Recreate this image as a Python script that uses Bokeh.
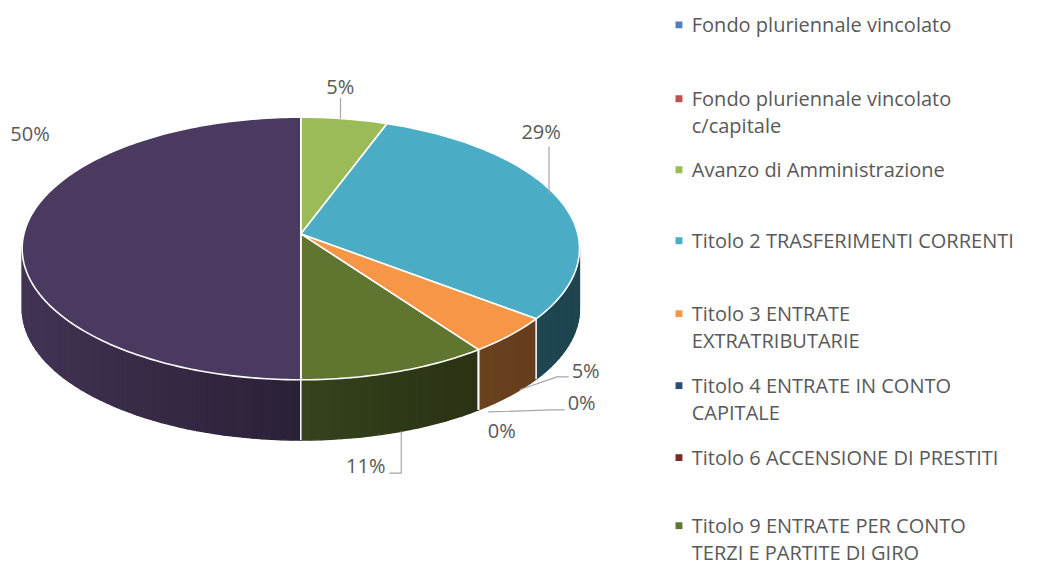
import numpy as np
from bokeh.plotting import figure
from bokeh.models import Range1d
from bokeh.embed import file_html
from bokeh.resources import INLINE
from bokeh.core.properties import value

# ---------------- data ----------------
categories = [
    "Fondo pluriennale vincolato",
    "Fondo pluriennale vincolato c/capitale",
    "Avanzo di Amministrazione",
    "Titolo 2 TRASFERIMENTI CORRENTI",
    "Titolo 3 ENTRATE EXTRATRIBUTARIE",
    "Titolo 4 ENTRATE IN CONTO CAPITALE",
    "Titolo 6 ACCENSIONE DI PRESTITI",
    "Titolo 9 ENTRATE PER CONTO TERZI E PARTITE DI GIRO",
    "Titolo 1 ENTRATE CORRENTI",
]
values = [0, 0, 5, 29, 5, 0, 0, 11, 50]
pct_labels = ["0%", "0%", "5%", "29%", "5%", "0%", "0%", "11%", "50%"]
legend_lines = [
    ["Fondo pluriennale vincolato"],
    ["Fondo pluriennale vincolato", "c/capitale"],
    ["Avanzo di Amministrazione"],
    ["Titolo 2 TRASFERIMENTI CORRENTI"],
    ["Titolo 3 ENTRATE", "EXTRATRIBUTARIE"],
    ["Titolo 4 ENTRATE IN CONTO", "CAPITALE"],
    ["Titolo 6 ACCENSIONE DI PRESTITI"],
    ["Titolo 9 ENTRATE PER CONTO", "TERZI E PARTITE DI GIRO"],
]

# ---------------- styles ----------------
colors = ["#4F81BD", "#C0504D", "#9BBB59", "#4BACC6", "#F79646",
          "#2C4D75", "#772C2A", "#5F7530", "#4B3A60"]
TXT = "#595959"
FONT = "Open Sans"

# geometry (in reference-picture pixel units)
CX, CY = 305.0, 255.0
APEX_Y = 240.0
RX, RY = 283.0, 135.0
DEPTH = 62.0

W, H = 1030, 567
p = figure(width=W, height=H, output_backend="svg", toolbar_location=None,
           x_range=Range1d(0, 1046), y_range=Range1d(583, 0),
           min_border=0)
p.axis.visible = False
p.grid.visible = False
p.outline_line_color = None
p.background_fill_color = "white"


def rim(t):
    return CX + RX * np.sin(t), CY - RY * np.cos(t)


def shade(hexc, f):
    h = hexc.lstrip("#")
    r, g, b = [int(h[i:i + 2], 16) for i in (0, 2, 4)]
    return "#%02x%02x%02x" % (int(round(r * f)), int(round(g * f)), int(round(b * f)))


total = float(sum(values))
bounds = np.concatenate([[0.0], np.cumsum(values)]) / total * 2 * np.pi

# ---- side walls (front half) ----
xs_s, ys_s, cs_s = [], [], []
for i, v in enumerate(values):
    a0, a1 = bounds[i], bounds[i + 1]
    lo, hi = max(a0, np.pi / 2), min(a1, 3 * np.pi / 2)
    if hi <= lo:
        continue
    n = max(2, int(np.degrees(hi - lo) / 2.0))
    ts = np.linspace(lo, hi, n + 1)
    for k in range(n):
        tA, tB = ts[k], ts[k + 1]
        xA, yA = rim(tA)
        xB, yB = rim(tB)
        tm = 0.5 * (tA + tB)
        u = (1 - np.sin(tm)) / 2
        f = 0.40 + 0.48 * u ** 1.5
        xs_s.append([xA, xB, xB, xA])
        ys_s.append([yA - 1, yB - 1, yB + DEPTH, yA + DEPTH])
        cs_s.append(shade(colors[i], f))
p.patches(xs_s, ys_s, fill_color=cs_s, line_color=cs_s, line_width=1.3,
          line_join="round")

# white vertical separators on side walls
for b in bounds:
    bb = b % (2 * np.pi)
    if np.pi / 2 < bb < 3 * np.pi / 2:
        x, y = rim(bb)
        p.line([x, x], [y, y + DEPTH], line_color="white", line_width=1.5)

# ---- top faces ----
xs_t, ys_t, cs_t = [], [], []
for i, v in enumerate(values):
    if v <= 0:
        continue
    a0, a1 = bounds[i], bounds[i + 1]
    ts = np.linspace(a0, a1, max(3, int(np.degrees(a1 - a0))))
    x, y = rim(ts)
    xs_t.append([CX] + list(x))
    ys_t.append([APEX_Y] + list(y))
    cs_t.append(colors[i])
p.patches(xs_t, ys_t, fill_color=cs_t, line_color="white", line_width=1.6,
          line_join="round")

# ---- data labels ----
mid = 0.5 * (bounds[:-1] + bounds[1:])
label_pos = {2: (345, 88, "center"), 3: (549, 135, "center"),
             4: (580, 380, "left"), 5: (576, 413, "left"),
             6: (509, 442, "center"), 7: (391, 478, "right"),
             8: (30, 137, "center")}
for i, (lx, ly, al) in label_pos.items():
    p.text([lx], [ly], text=[pct_labels[i]], text_color=TXT,
           text_font=value(FONT), text_font_size="20px",
           text_align=al, text_baseline="middle")

LC = "#A6A6A6"
x2, y2 = rim(mid[2])
p.line([x2 - 4, x2 - 4], [100, y2], line_color=LC, line_width=1.2)
x3, y3 = rim(mid[3])
p.line([557, 557], [150, y3 - 10], line_color=LC, line_width=1.2)
x4, y4 = rim(mid[4])
p.line([x4 + 10, 565, 577], [y4 + DEPTH - 6, 387, 387], line_color=LC, line_width=1.2)
x5, y5 = rim(bounds[5])
p.line([x5 + 10, 560, 573], [y5 + DEPTH + 2, 421, 421], line_color=LC, line_width=1.2)
x7, y7 = rim(mid[7])
p.line([395, 407, 407], [486, 486, y7 + DEPTH - 1], line_color=LC, line_width=1.2)

# ---- legend ----
leg_y = [25, 101, 174, 247, 322, 396, 470, 540]
LINE_H = 27.5
for i, lines in enumerate(legend_lines):
    p.rect([689], [leg_y[i]], width=7, height=7, fill_color=colors[i],
           line_color=None)
    for j, s in enumerate(lines):
        p.text([702], [leg_y[i] + j * LINE_H], text=[s], text_color=TXT,
               text_font=value(FONT), text_font_size="20px",
               text_align="left", text_baseline="middle")

open("out.html", "w").write(file_html(p, INLINE))
